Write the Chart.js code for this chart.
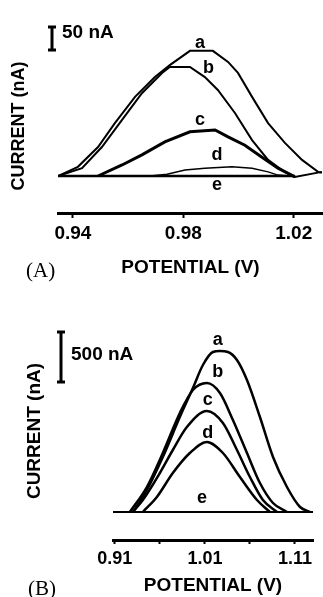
<!DOCTYPE html>
<html>
<head>
<meta charset="utf-8">
<script src="https://cdn.jsdelivr.net/npm/chart.js@4.4.1/dist/chart.umd.min.js"></script>
<style>
html, body { margin: 0; padding: 0; background: #fff; }
#wrap { position: relative; width: 323px; height: 597px; overflow: hidden; }
.panel { position: absolute; left: 0; width: 323px; }
#boxA { top: 0; height: 300px; }
#boxB { top: 300px; height: 297px; }
.tag { position: absolute; font-family: "Liberation Serif", "DejaVu Serif", serif; font-size: 21px; color: #000; line-height: 1; }
</style>
</head>
<body>
<div id="wrap">
  <div class="panel" id="boxA"><canvas id="chartA" width="323" height="300"></canvas></div>
  <div class="panel" id="boxB"><canvas id="chartB" width="323" height="297"></canvas></div>
  <div class="tag" style="left:26px;top:260px">(A)</div>
  <div class="tag" style="left:28px;top:578px">(B)</div>
</div>
<script>
// panel A : potential (V) / current (nA)
const potA_a = [0.9346, 0.9418, 0.9491, 0.9552, 0.9625, 0.9697, 0.9751, 0.9824, 0.9907, 0.9962, 0.9998, 1.0049, 1.0107, 1.0168, 1.0230, 1.0288, 1.0302]
const curA_a = [0, 20, 63, 115, 172, 215, 241, 272, 272, 248, 224, 172, 115, 72, 35, 9, 7]
const potA_b = [0.9346, 0.9433, 0.9505, 0.9578, 0.9650, 0.9723, 0.9751, 0.9824, 0.9878, 0.9925, 0.9987, 1.0049, 1.0107, 1.0157, 1.0204, 1.0302]
const curA_b = [0, 17, 63, 122, 180, 224, 237, 237, 215, 187, 137, 78, 35, 13, -2, 9]
const potA_c = [0.9491, 0.9578, 0.9650, 0.9733, 0.9824, 0.9915, 0.9962, 1.0023, 1.0085, 1.0143, 1.0204]
const curA_c = [0, 24, 46, 74, 96, 100, 85, 67, 41, 17, -2]
const potA_d = [0.9679, 0.9741, 0.9806, 0.9878, 0.9976, 1.0049, 1.0107, 1.0143, 1.0186]
const curA_d = [0, 4, 13, 17, 20, 17, 9, 2, 0]
const potA_e = [0.9346, 1.0204]
const curA_e = [0, 0]
const ticksA = [0.94, 0.98, 1.02]
const tickLabelsA = ['0.94', '0.98', '1.02']

// panel B
const potB_a = [0.930, 0.9456, 0.9633, 0.9822, 0.9967, 1.0078, 1.0189, 1.0267, 1.0356, 1.0456, 1.0567, 1.0711, 1.0856, 1.1011, 1.1156, 1.1267]
const curB_a = [0, 220, 550, 950, 1240, 1470, 1600, 1610, 1600, 1520, 1320, 950, 550, 250, 50, 0]
const potB_b = [0.9267, 0.9456, 0.9633, 0.9822, 0.9967, 1.0122, 1.0267, 1.0411, 1.0567, 1.0711, 1.0856, 1.1011]
const curB_b = [0, 250, 590, 990, 1220, 1290, 1190, 920, 590, 290, 90, 0]
const potB_c = [0.930, 0.9411, 0.960, 0.9744, 0.990, 1.0122, 1.030, 1.0456, 1.060, 1.0744, 1.090]
const curB_c = [0, 120, 390, 620, 850, 1010, 890, 620, 350, 120, 0]
const potB_d = [0.9411, 0.9567, 0.9744, 0.9933, 1.0122, 1.030, 1.0489, 1.0678, 1.0822]
const curB_d = [0, 150, 390, 590, 700, 590, 350, 120, 0]
const potB_e = [0.908, 1.13]
const curB_e = [0, 0]
const ticksB = [0.91, 0.96, 1.01, 1.06, 1.11]
const tickLabelsB = ['0.91', '', '1.01', '', '1.11']

const names = ['a', 'b', 'c', 'd', 'e']
const labelPotA = [0.9860, 0.9891, 0.9860, 0.9922, 0.9922]
const labelCurA = [289, 235, 122, 46, -20]
const labelPotB = [1.0244, 1.0244, 1.0133, 1.0133, 1.0067]
const labelCurB = [1720, 1400, 1120, 790, 140]

const FONT = '"Liberation Sans", Arial, Helvetica, sans-serif'

function pts(xs, ys) {
    return xs.map((v, i) => ({x: v, y: ys[i]}));
}

// curve letters and the scale bar
const marks = {
    id: 'marks',
    afterDatasetsDraw(chart, args, o) {
        const ctx = chart.ctx;
        const x = chart.scales.x, y = chart.scales.y;
        ctx.save();
        ctx.fillStyle = '#000';
        ctx.font = 'bold ' + o.labelSize + 'px ' + FONT;
        ctx.textAlign = 'center';
        ctx.textBaseline = 'middle';
        names.forEach((n, i) => {
            ctx.fillText(n, x.getPixelForValue(o.lx[i]), y.getPixelForValue(o.ly[i]));
        });
        const bx = o.barX;
        const y0 = y.getPixelForValue(o.barFrom);
        const y1 = y.getPixelForValue(o.barFrom + o.barLen);
        ctx.strokeStyle = '#000';
        ctx.lineWidth = 3;
        ctx.beginPath();
        ctx.moveTo(bx, y0); ctx.lineTo(bx, y1);
        ctx.moveTo(bx - 4, y0); ctx.lineTo(bx + 4, y0);
        ctx.moveTo(bx - 4, y1); ctx.lineTo(bx + 4, y1);
        ctx.stroke();
        ctx.textAlign = 'left';
        ctx.font = 'bold ' + o.barSize + 'px ' + FONT;
        ctx.fillText(o.barText, bx + 10, y.getPixelForValue(o.barTextAt));
        ctx.restore();
    }
};

function line(data, w, smooth) {
    return {data: data, borderColor: '#000', borderWidth: w, pointRadius: 0, fill: false,
        tension: smooth ? 0.4 : 0, cubicInterpolationMode: smooth ? 'monotone' : 'default'};
}

var ctxA = document.getElementById('chartA').getContext('2d');
var chartA = new Chart(ctxA, {
    type: 'line',
    data: {datasets: [
        line(pts(potA_e, curA_e), 2.5, false),
        line(pts(potA_d, curA_d), 1.5, false),
        line(pts(potA_c, curA_c), 3, false),
        line(pts(potA_b, curA_b), 2, false),
        line(pts(potA_a, curA_a), 2, false)
    ]},
    options: {
        responsive: false,
        animation: false,
        layout: {padding: {top: 39, left: 0, right: 0, bottom: 0}},
        plugins: {
            legend: {display: false},
            tooltip: {enabled: false},
            marks: {labelSize: 18, lx: labelPotA, ly: labelCurA, barX: 52, barFrom: 274, barLen: 50, barText: '50 nA', barSize: 19, barTextAt: 311}
        },
        scales: {
            x: {
                type: 'linear', min: 0.9346, max: 1.0306,
                afterBuildTicks: s => { s.ticks = ticksA.map(v => ({value: v})); },
                afterFit: s => { s.height = 87; },
                ticks: {autoSkip: false, maxRotation: 0, color: '#000', padding: 4,
                    font: {family: FONT, size: 19, weight: 'bold'},
                    callback: (v, i) => tickLabelsA[i]},
                grid: {display: true, drawOnChartArea: false, drawTicks: true, tickLength: 5, tickWidth: 2, color: '#000'},
                border: {display: true, width: 3, color: '#000'},
                title: {display: true, text: 'POTENTIAL (V)', color: '#000', font: {family: FONT, size: 19, weight: 'bold'}, padding: {top: 0, bottom: 21}}
            },
            y: {
                min: -80.4, max: 297.8,
                afterFit: s => { s.width = 58; },
                ticks: {display: false},
                grid: {display: false},
                border: {display: false},
                title: {display: true, text: 'CURRENT (nA)', color: '#000', font: {family: FONT, size: 18, weight: 'bold'}, padding: {top: 8, bottom: 0}}
            }
        }
    },
    plugins: [marks]
});

var ctxB = document.getElementById('chartB').getContext('2d');
var chartB = new Chart(ctxB, {
    type: 'line',
    data: {datasets: [
        line(pts(potB_e, curB_e), 2, false),
        line(pts(potB_d, curB_d), 2.5, true),
        line(pts(potB_c, curB_c), 2.5, true),
        line(pts(potB_b, curB_b), 2.5, true),
        line(pts(potB_a, curB_a), 2.5, true)
    ]},
    options: {
        responsive: false,
        animation: false,
        layout: {padding: {top: 22, left: 0, right: 10, bottom: 0}},
        plugins: {
            legend: {display: false},
            tooltip: {enabled: false},
            marks: {labelSize: 18, lx: labelPotB, ly: labelCurB, barX: 61, barFrom: 1300, barLen: 500, barText: '500 nA', barSize: 19, barTextAt: 1570}
        },
        scales: {
            x: {
                type: 'linear', min: 0.908, max: 1.13,
                afterBuildTicks: s => { s.ticks = ticksB.map(v => ({value: v})); },
                afterFit: s => { s.height = 57; },
                ticks: {autoSkip: false, maxRotation: 0, color: '#000', padding: 4,
                    font: {family: FONT, size: 18, weight: 'bold'},
                    callback: (v, i) => tickLabelsB[i]},
                grid: {display: true, drawOnChartArea: false, drawTicks: true, tickLength: 4, tickWidth: 2, color: '#000'},
                border: {display: true, width: 3, color: '#000'},
                title: {display: true, text: 'POTENTIAL (V)', color: '#000', font: {family: FONT, size: 19, weight: 'bold'}, padding: {top: 0, bottom: 0}}
            },
            y: {
                min: -280, max: 1900,
                afterFit: s => { s.width = 113; },
                ticks: {display: false},
                grid: {display: false},
                border: {display: false},
                title: {display: true, text: 'CURRENT (nA)', color: '#000', font: {family: FONT, size: 19, weight: 'bold'}, padding: {top: 23, bottom: 0}}
            }
        }
    },
    plugins: [marks]
});
</script>
</body>
</html>
